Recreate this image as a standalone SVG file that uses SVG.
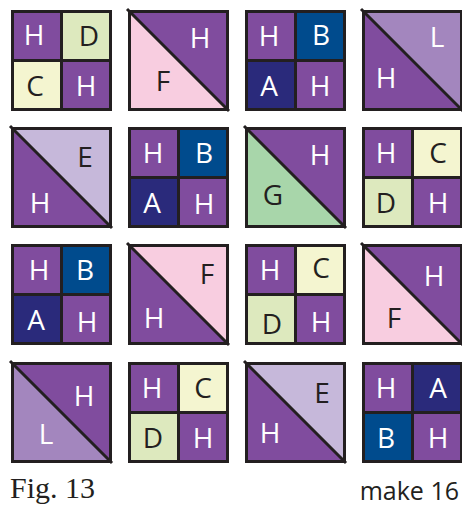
<svg xmlns="http://www.w3.org/2000/svg" width="462" height="508" viewBox="0 0 462 508">
<style>
.H{fill:#804c9e}.D{fill:#dde9be}.C{fill:#f4f5d0}.F{fill:#f8cde0}.B{fill:#004b8d}.A{fill:#2a2a7b}.L{fill:#a386be}.E{fill:#c6b8da}.G{fill:#a8d6aa}
.ln{stroke:#231f20;stroke-width:3;fill:none}
.frame{stroke:#231f20;stroke-width:3;fill:none}
text{font-family:"Open Sans","DejaVu Sans",sans-serif;font-size:28px;text-anchor:middle}
.w{fill:#ffffff}.k{fill:#231f20}
</style>
<rect width="462" height="508" fill="#ffffff"/>
<defs>
<g id="q4">
<line class="ln" x1="50.5" y1="0" x2="50.5" y2="101"/>
<line class="ln" x1="0" y1="50.5" x2="101" y2="50.5"/>
<rect class="frame" x="1.5" y="1.5" width="98" height="98"/>
</g>
<g id="hst">
<line class="ln" x1="-1" y1="-1" x2="101" y2="101"/>
<rect class="frame" x="1.5" y="1.5" width="98" height="98"/>
</g>
</defs>

<!-- Row 1 -->
<g id="b11" transform="translate(11,10)">
<rect class="H" x="0" y="0" width="50.5" height="50.5"/><rect class="D" x="50.5" y="0" width="50.5" height="50.5"/>
<rect class="C" x="0" y="50.5" width="50.5" height="50.5"/><rect class="H" x="50.5" y="50.5" width="50.5" height="50.5"/>
<use href="#q4"/>
<text class="w" x="23" y="35">H</text><text class="k" x="78" y="36">D</text>
<text class="k" x="24" y="86">C</text><text class="w" x="75" y="86">H</text>
</g>
<g id="b12" transform="translate(128,10)">
<polygon class="H" points="0,0 101,0 101,101"/><polygon class="F" points="0,0 0,101 101,101"/>
<use href="#hst"/>
<text class="w" x="72" y="38">H</text><text class="k" x="35" y="81">F</text>
</g>
<g id="b13" transform="translate(245,10)">
<rect class="H" x="0" y="0" width="50.5" height="50.5"/><rect class="B" x="50.5" y="0" width="50.5" height="50.5"/>
<rect class="A" x="0" y="50.5" width="50.5" height="50.5"/><rect class="H" x="50.5" y="50.5" width="50.5" height="50.5"/>
<use href="#q4"/>
<text class="w" x="24" y="36">H</text><text class="w" x="76" y="35">B</text>
<text class="w" x="24" y="86">A</text><text class="w" x="75" y="86">H</text>
</g>
<g id="b14" transform="translate(362,10)">
<polygon class="L" points="0,0 101,0 101,101"/><polygon class="H" points="0,0 0,101 101,101"/>
<use href="#hst"/>
<text class="w" x="75" y="37">L</text><text class="w" x="24" y="78">H</text>
</g>

<!-- Row 2 -->
<g id="b21" transform="translate(11,127)">
<polygon class="E" points="0,0 101,0 101,101"/><polygon class="H" points="0,0 0,101 101,101"/>
<use href="#hst"/>
<text class="k" x="74" y="40">E</text><text class="w" x="29" y="86">H</text>
</g>
<g id="b22" transform="translate(128,127)">
<rect class="H" x="0" y="0" width="50.5" height="50.5"/><rect class="B" x="50.5" y="0" width="50.5" height="50.5"/>
<rect class="A" x="0" y="50.5" width="50.5" height="50.5"/><rect class="H" x="50.5" y="50.5" width="50.5" height="50.5"/>
<use href="#q4"/>
<text class="w" x="25" y="36">H</text><text class="w" x="76" y="36">B</text>
<text class="w" x="24" y="86">A</text><text class="w" x="76" y="87">H</text>
</g>
<g id="b23" transform="translate(245,127)">
<polygon class="H" points="0,0 101,0 101,101"/><polygon class="G" points="0,0 0,101 101,101"/>
<use href="#hst"/>
<text class="w" x="75" y="38">H</text><text class="k" x="28" y="78">G</text>
</g>
<g id="b24" transform="translate(362,127)">
<rect class="H" x="0" y="0" width="50.5" height="50.5"/><rect class="C" x="50.5" y="0" width="50.5" height="50.5"/>
<rect class="D" x="0" y="50.5" width="50.5" height="50.5"/><rect class="H" x="50.5" y="50.5" width="50.5" height="50.5"/>
<use href="#q4"/>
<text class="w" x="24" y="36">H</text><text class="k" x="76" y="36">C</text>
<text class="k" x="24" y="86">D</text><text class="w" x="76" y="86">H</text>
</g>

<!-- Row 3 -->
<g id="b31" transform="translate(11,244)">
<rect class="H" x="0" y="0" width="50.5" height="50.5"/><rect class="B" x="50.5" y="0" width="50.5" height="50.5"/>
<rect class="A" x="0" y="50.5" width="50.5" height="50.5"/><rect class="H" x="50.5" y="50.5" width="50.5" height="50.5"/>
<use href="#q4"/>
<text class="w" x="28" y="36">H</text><text class="w" x="74" y="36">B</text>
<text class="w" x="25" y="86">A</text><text class="w" x="76" y="88">H</text>
</g>
<g id="b32" transform="translate(128,244)">
<polygon class="F" points="0,0 101,0 101,101"/><polygon class="H" points="0,0 0,101 101,101"/>
<use href="#hst"/>
<text class="k" x="79" y="40">F</text><text class="w" x="26" y="84">H</text>
</g>
<g id="b33" transform="translate(245,244)">
<rect class="H" x="0" y="0" width="50.5" height="50.5"/><rect class="C" x="50.5" y="0" width="50.5" height="50.5"/>
<rect class="D" x="0" y="50.5" width="50.5" height="50.5"/><rect class="H" x="50.5" y="50.5" width="50.5" height="50.5"/>
<use href="#q4"/>
<text class="w" x="25" y="36">H</text><text class="k" x="76" y="34">C</text>
<text class="k" x="27" y="90">D</text><text class="w" x="76" y="88">H</text>
</g>
<g id="b34" transform="translate(362,244)">
<polygon class="H" points="0,0 101,0 101,101"/><polygon class="F" points="0,0 0,101 101,101"/>
<use href="#hst"/>
<text class="w" x="72" y="42">H</text><text class="k" x="32" y="84">F</text>
</g>

<!-- Row 4 -->
<g id="b41" transform="translate(11,362)">
<polygon class="H" points="0,0 101,0 101,101"/><polygon class="L" points="0,0 0,101 101,101"/>
<use href="#hst"/>
<text class="w" x="73" y="44">H</text><text class="w" x="35" y="82">L</text>
</g>
<g id="b42" transform="translate(128,362)">
<rect class="H" x="0" y="0" width="50.5" height="50.5"/><rect class="C" x="50.5" y="0" width="50.5" height="50.5"/>
<rect class="D" x="0" y="50.5" width="50.5" height="50.5"/><rect class="H" x="50.5" y="50.5" width="50.5" height="50.5"/>
<use href="#q4"/>
<text class="w" x="24" y="36">H</text><text class="k" x="75" y="36">C</text>
<text class="k" x="25" y="86">D</text><text class="w" x="75" y="86">H</text>
</g>
<g id="b43" transform="translate(245,362)">
<polygon class="E" points="0,0 101,0 101,101"/><polygon class="H" points="0,0 0,101 101,101"/>
<use href="#hst"/>
<text class="k" x="77" y="41">E</text><text class="w" x="25" y="81">H</text>
</g>
<g id="b44" transform="translate(362,362)">
<rect class="H" x="0" y="0" width="50.5" height="50.5"/><rect class="A" x="50.5" y="0" width="50.5" height="50.5"/>
<rect class="B" x="0" y="50.5" width="50.5" height="50.5"/><rect class="H" x="50.5" y="50.5" width="50.5" height="50.5"/>
<use href="#q4"/>
<text class="w" x="24" y="36">H</text><text class="w" x="76" y="36">A</text>
<text class="w" x="24" y="86">B</text><text class="w" x="76" y="86">H</text>
</g>

<g id="captions">
<text x="10" y="498" style="font-family:'Liberation Serif','DejaVu Serif',serif;font-size:30px;text-anchor:start;fill:#231f20">Fig. 13</text>
<text x="459" y="500" style="font-family:'Open Sans','DejaVu Sans',sans-serif;font-size:25px;text-anchor:end;fill:#231f20">make 16</text>
</g>
</svg>
